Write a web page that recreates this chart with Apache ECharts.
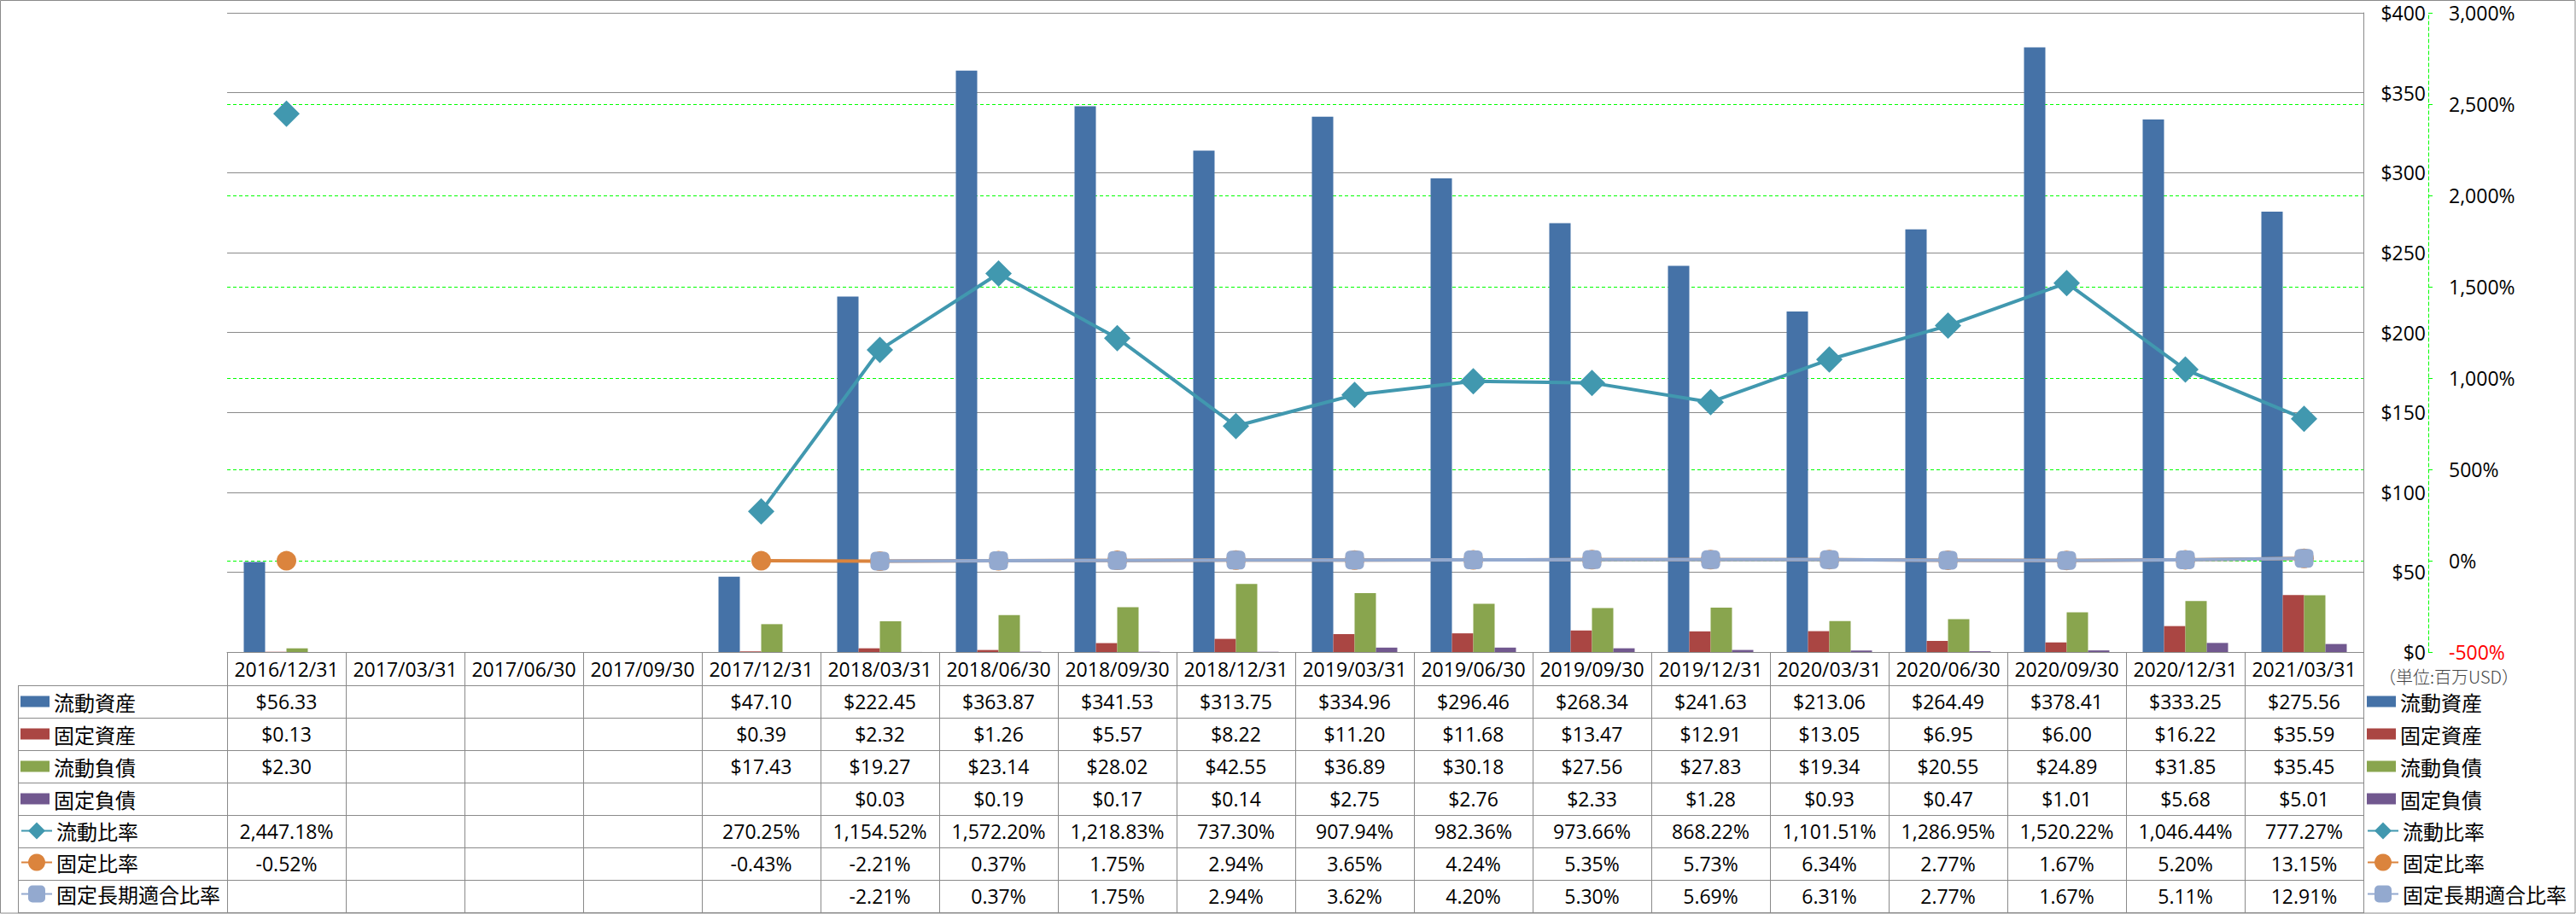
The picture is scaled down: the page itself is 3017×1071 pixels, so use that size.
<!DOCTYPE html>
<html><head><meta charset="utf-8">
<script src="https://cdn.jsdelivr.net/npm/echarts/dist/echarts.min.js"></script>
<style>html,body{margin:0;padding:0;background:#fff}#c{width:3017px;height:1071px}</style>
</head><body><div id="c"></div>
<script>
// ---- data ----
const categories = ['2016/12/31','2017/03/31','2017/06/30','2017/09/30','2017/12/31','2018/03/31','2018/06/30','2018/09/30','2018/12/31','2019/03/31','2019/06/30','2019/09/30','2019/12/31','2020/03/31','2020/06/30','2020/09/30','2020/12/31','2021/03/31'];
const currentAssets  = [56.33,null,null,null,47.10,222.45,363.87,341.53,313.75,334.96,296.46,268.34,241.63,213.06,264.49,378.41,333.25,275.56];
const fixedAssets    = [0.13,null,null,null,0.39,2.32,1.26,5.57,8.22,11.20,11.68,13.47,12.91,13.05,6.95,6.00,16.22,35.59];
const currentLiab    = [2.30,null,null,null,17.43,19.27,23.14,28.02,42.55,36.89,30.18,27.56,27.83,19.34,20.55,24.89,31.85,35.45];
const fixedLiab      = [null,null,null,null,null,0.03,0.19,0.17,0.14,2.75,2.76,2.33,1.28,0.93,0.47,1.01,5.68,5.01];
const currentRatio   = [2447.18,null,null,null,270.25,1154.52,1572.20,1218.83,737.30,907.94,982.36,973.66,868.22,1101.51,1286.95,1520.22,1046.44,777.27];
const fixedRatio     = [-0.52,null,null,null,-0.43,-2.21,0.37,1.75,2.94,3.65,4.24,5.35,5.73,6.34,2.77,1.67,5.20,13.15];
const fixedLongRatio = [null,null,null,null,null,-2.21,0.37,1.75,2.94,3.62,4.20,5.30,5.69,6.31,2.77,1.67,5.11,12.91];
const barNames  = ['流動資産','固定資産','流動負債','固定負債'];
const lineNames = ['流動比率','固定比率','固定長期適合比率'];
const moneyAxis = {min: 0, max: 400, interval: 50};
const pctAxis   = {min: -500, max: 3000, interval: 500};
const unitLabel = '（単位:百万USD）';

// ---- layout ----
const W = 3017, H = 1071;
const G = {left: 266, right: 2768, top: 15, bottom: 764};
const HEADER_H = 39, ROW_H = 38, TABLE_LEFT = 21;
const NUM_FONT = "'Open Sans', 'Liberation Sans', sans-serif";
const CJK_FONT = "'Noto Sans CJK JP', sans-serif";
const GRAY = '#8a8a8a';
const colors = ['#4572A7','#AA4643','#89A54E','#71588F','#4198AF','#DB843D','#93A9CF'];

const fmtMoney = v => v == null ? '' : '$' + v.toLocaleString('en-US',{minimumFractionDigits:2, maximumFractionDigits:2});
const fmtPct = v => v == null ? '' : v.toLocaleString('en-US',{minimumFractionDigits:2, maximumFractionDigits:2}) + '%';

const chart = echarts.init(document.getElementById('c'), null, {renderer: 'svg', width: W, height: H});

const barData = [currentAssets, fixedAssets, currentLiab, fixedLiab];
const lineData = [currentRatio, fixedRatio, fixedLongRatio];
const lineSymbols = [['diamond', 31], ['circle', 23], ['roundRect', 22]];

const series = [];
barData.forEach((d, i) => series.push({
  name: barNames[i], type: 'bar', yAxisIndex: 0, data: d,
  barWidth: 25, barGap: '0%', itemStyle: {color: colors[i]}, z: 2
}));
lineData.forEach((d, i) => series.push({
  name: lineNames[i], type: 'line', yAxisIndex: 1, data: d,
  symbol: lineSymbols[i][0], symbolSize: lineSymbols[i][1], showSymbol: true,
  connectNulls: false,
  lineStyle: {color: colors[4+i], width: 4},
  itemStyle: {color: colors[4+i]}, z: 3 + i
}));

const legendCommon = {
  orient: 'vertical', padding: 0, selectedMode: false,
  textStyle: {fontSize: 24, fontFamily: CJK_FONT, color: '#000', lineHeight: 24}
};
const rowCenter = r => G.bottom + HEADER_H + ROW_H * r + ROW_H / 2;

chart.setOption({
  animation: false,
  backgroundColor: '#fff',
  grid: {left: G.left, right: W - G.right, top: G.top, bottom: H - G.bottom, containLabel: false, outerBoundsMode: 'none'},
  legend: [
    Object.assign({}, legendCommon, {data: barNames, left: 24, top: rowCenter(0) - 12, itemWidth: 34, itemHeight: 13, itemGap: 14, icon: 'rect'}),
    Object.assign({}, legendCommon, {data: lineNames, left: 24, top: rowCenter(4) - 12.5, itemWidth: 36, itemHeight: 25, itemGap: 13}),
    Object.assign({}, legendCommon, {data: barNames, left: 2772, top: rowCenter(0) - 12, itemWidth: 34, itemHeight: 13, itemGap: 14, icon: 'rect'}),
    Object.assign({}, legendCommon, {data: lineNames, left: 2772, top: rowCenter(4) - 12.5, itemWidth: 36, itemHeight: 25, itemGap: 13})
  ],
  xAxis: {
    type: 'category', data: categories, boundaryGap: true,
    axisLine: {show: true, lineStyle: {color: GRAY, width: 1}},
    axisTick: {show: true, interval: 0, length: H - 1 - G.bottom, lineStyle: {color: GRAY, width: 1}},
    axisLabel: {interval: 0, fontSize: 23, fontFamily: NUM_FONT, color: '#000', margin: 8},
    splitLine: {show: false}
  },
  yAxis: [
    {
      type: 'value', position: 'right', min: moneyAxis.min, max: moneyAxis.max, interval: moneyAxis.interval, z: 2,
      axisLine: {show: true, lineStyle: {color: GRAY, width: 1}},
      axisTick: {show: false},
      axisLabel: {formatter: v => '$' + v, align: 'right', margin: 73, fontSize: 23, fontFamily: NUM_FONT, color: '#000'},
      splitLine: {show: true, lineStyle: {color: GRAY, width: 1}}
    },
    {
      type: 'value', position: 'right', offset: 76, min: pctAxis.min, max: pctAxis.max, interval: pctAxis.interval, z: 1,
      axisLine: {show: true, lineStyle: {color: '#00ff00', width: 1, type: [4, 3]}},
      axisTick: {show: true, length: 5, lineStyle: {color: '#00ff00', width: 1}},
      axisLabel: {
        formatter: v => Number(v).toLocaleString('en-US') + '%', margin: 24, fontSize: 23, fontFamily: NUM_FONT,
        color: v => Number(v) < 0 ? '#ff0000' : '#000'
      },
      splitLine: {show: true, lineStyle: {color: '#00ff00', width: 1, type: [4, 3]}}
    }
  ],
  series: series
});

// ---- data table (text + grid lines) ----
const rows = [
  currentAssets.map(fmtMoney), fixedAssets.map(fmtMoney), currentLiab.map(fmtMoney), fixedLiab.map(fmtMoney),
  currentRatio.map(fmtPct), fixedRatio.map(fmtPct), fixedLongRatio.map(fmtPct)
];
const els = [];
// outer border
els.push({type: 'rect', shape: {x: 0.5, y: 0.5, width: W - 1.5, height: H - 1.5}, style: {fill: 'none', stroke: GRAY, lineWidth: 1}, silent: true});
// top border line of the plot (drawn over the dashed % grid line)
els.push({type: 'line', shape: {x1: G.left, y1: G.top + 0.5, x2: G.right, y2: G.top + 0.5}, style: {stroke: GRAY, lineWidth: 1}, silent: true, z: 10});
// horizontal table lines
for (let k = 0; k <= rows.length; k++) {
  const y = Math.round(G.bottom + HEADER_H + ROW_H * k) + 0.5;
  els.push({type: 'line', shape: {x1: TABLE_LEFT, y1: y, x2: G.right, y2: y}, style: {stroke: GRAY, lineWidth: 1}, silent: true});
}
els.push({type: 'line', shape: {x1: TABLE_LEFT + 0.5, y1: G.bottom + HEADER_H, x2: TABLE_LEFT + 0.5, y2: H - 1}, style: {stroke: GRAY, lineWidth: 1}, silent: true});
// cell values
rows.forEach((r, ri) => {
  r.forEach((txt, ci) => {
    if (!txt) return;
    const x = chart.convertToPixel({xAxisIndex: 0}, categories[ci]);
    els.push({type: 'text', x: x, y: rowCenter(ri), silent: true,
      style: {text: txt, align: 'center', verticalAlign: 'middle', fontSize: 23, fontFamily: NUM_FONT, fill: '#000'}});
  });
});
// unit label
els.push({type: 'text', x: 2786, y: G.bottom + 28, silent: true,
  style: {text: unitLabel, align: 'left', verticalAlign: 'middle', fontSize: 20, fontFamily: CJK_FONT, fontWeight: 300, fill: '#444'}});
chart.setOption({graphic: {elements: els}});
</script>
</body></html>
